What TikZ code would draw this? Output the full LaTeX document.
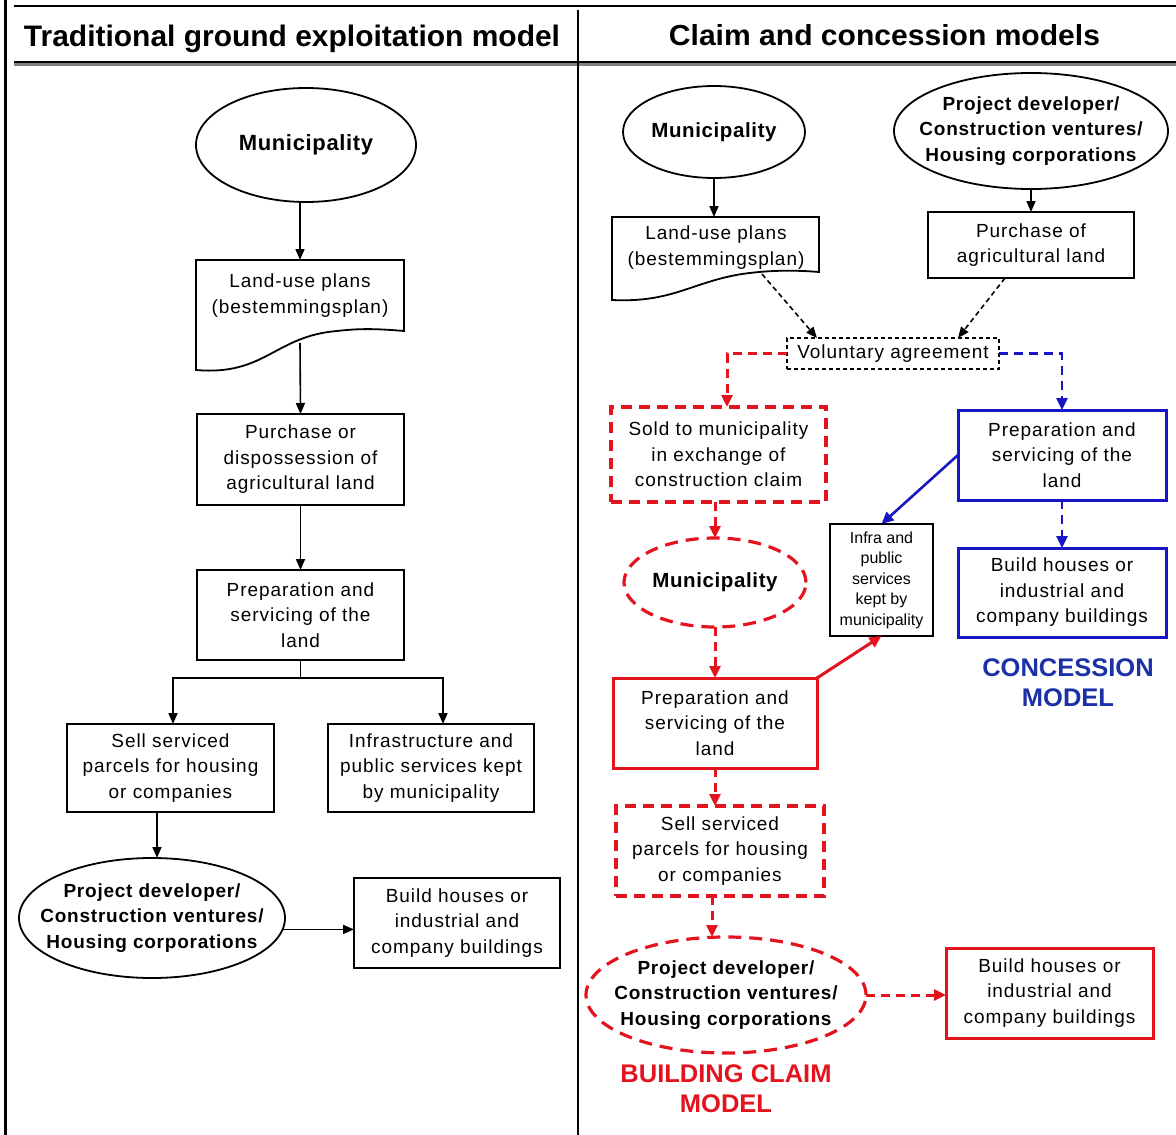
\documentclass[tikz,border=0pt]{standalone}
\usepackage{fontspec}
\setmainfont{Liberation Sans}
\usepackage{graphicx}
\usetikzlibrary{arrows.meta,shapes.geometric,calc}
\definecolor{rd}{RGB}{228,20,30}
\definecolor{bl}{RGB}{22,22,196}
\definecolor{bltext}{RGB}{28,48,168}
\begin{document}
\begin{tikzpicture}[x=1pt,y=-1pt,
  every node/.style={inner sep=0pt, outer sep=0pt},
  body/.style={font=\fontsize{19}{25.5}\selectfont\addfontfeatures{LetterSpace=5}, align=center},
  bbody/.style={font=\fontsize{19}{25.5}\selectfont\bfseries\addfontfeatures{LetterSpace=4}, align=center},
  bbox/.style={body, draw, line width=1.8pt, rectangle},
  rbox/.style={body, draw=rd, line width=3pt, rectangle},
  rdbox/.style={body, draw=rd, line width=3.2pt, dash pattern=on 11pt off 7pt, rectangle},
  blbox/.style={body, draw=bl, line width=3pt, rectangle},
  ell/.style={draw, line width=1.8pt, ellipse},
  rdell/.style={draw=rd, line width=3.2pt, dash pattern=on 13pt off 8pt, ellipse},
  arr/.style={-{Triangle[length=11pt,width=9pt]}, line width=1.6pt},
  darr/.style={arr, dash pattern=on 5pt off 3.5pt},
  rarr/.style={-{Triangle[length=12pt,width=11pt]}, draw=rd, line width=3pt},
  rdarr/.style={rarr, dash pattern=on 9pt off 6pt},
  barr/.style={-{Triangle[length=12pt,width=11pt]}, draw=bl, line width=2.6pt},
  bdarr/.style={barr, dash pattern=on 9pt off 6pt},
  docline/.style={draw, line width=1.8pt, fill=white},
  model/.style={font=\fontsize{25.5}{30}\selectfont\bfseries, align=center}
]
\useasboundingbox (0,0) rectangle (1176,1135);

% frame and headers
\draw[line width=3pt] (5,0) -- (5,1135);
\draw[line width=2.8pt] (14,6) -- (1176,6);
\draw[line width=2.2pt, gray] (14,64.5) -- (1176,64.5);
\draw[line width=2.4pt] (14,62) -- (1176,62);
\draw[line width=2.8pt] (578,10) -- (578,1135);
\node[anchor=base] (hleft) at (292,46.5) {\resizebox{536pt}{21.5pt}{\bfseries Traditional ground exploitation model}};
\node[anchor=base] (hright) at (884.5,45.5) {\resizebox{431pt}{21pt}{\bfseries Claim and concession models}};

% ---------- left column ----------
\node[ell, minimum width=220pt, minimum height=114pt] (lmun) at (306,145) {};
\node[bbody, font=\fontsize{22}{26}\selectfont\bfseries\addfontfeatures{LetterSpace=3}] (lmunt) at (lmun) {Municipality};
\draw[docline] (196,260) -- (404,260) -- (404,331)
  .. controls (380,329) and (362,328) .. (337,331)
  .. controls (275,336) and (265,376) .. (196,370) -- cycle;
\node[body] (ldoc) at (300,295.5) {Land-use plans\\(bestemmingsplan)};
\coordinate (ldoctop) at (300,260);
\coordinate (ldocbot) at (300,343);
\node[bbox, minimum width=207pt, minimum height=91pt] (lpur) at (300.5,459.5) {Purchase or\\dispossession of\\agricultural land};
\node[bbox, minimum width=207pt, minimum height=90pt] (lprep) at (300.5,615) {Preparation and\\servicing of the\\land};
\node[bbox, minimum width=207pt, minimum height=88pt] (lsell) at (170.5,768) {Sell serviced\\parcels for housing\\or companies};
\node[bbox, minimum width=206pt, minimum height=88pt] (linfra) at (431,768) {Infrastructure and\\public services kept\\by municipality};
\node[ell, minimum width=266pt, minimum height=120pt] (ldev) at (152,918) {};
\node[bbody] (ldevt) at (ldev) {Project developer/\\Construction ventures/\\Housing corporations};
\node[bbox, minimum width=206pt, minimum height=90pt] (lbuild) at (457,923) {Build houses or\\industrial and\\company buildings};

\draw[arr] (ldoctop |- lmun.south) -- (ldoctop);
\draw[arr] (ldocbot) -- (lpur.north);
\draw[arr] (lpur.south) -- (lprep.north);
\draw[line width=1.6pt] (lprep.south) -- ++(0,18) coordinate (lsplit);
\draw[arr] (lsplit) -| ([xshift=2.5pt]lsell.north);
\draw[arr] (lsplit) -| ([xshift=12pt]linfra.north);
\draw[arr] ([xshift=-13.5pt]lsell.south) -- ([xshift=5pt]ldev.north);
\draw[arr] (ldev.-5) -- (ldev.-5 -| lbuild.west);

% ---------- right column ----------
\node[ell, minimum width=182pt, minimum height=92pt] (rmun) at (714,132) {};
\node[bbody, font=\fontsize{20.5}{24}\selectfont\bfseries\addfontfeatures{LetterSpace=3}] (rmunt) at (rmun) {Municipality};
\draw[docline] (612,217) -- (819,217) -- (819,272)
  .. controls (795,270) and (770,270) .. (742,274)
  .. controls (692,282) and (672,303) .. (612,300) -- cycle;
\node[body] (rdoc) at (716,247.5) {Land-use plans\\(bestemmingsplan)};
\coordinate (rdoctop) at (714,217);
\coordinate (rdocbot) at (762,274);
\node[ell, minimum width=274pt, minimum height=116pt] (rdev) at (1031,131) {};
\node[bbody] (rdevt) at (rdev) {Project developer/\\Construction ventures/\\Housing corporations};
\node[bbox, minimum width=206pt, minimum height=66pt] (rpur) at (1031,245) {Purchase of\\agricultural land};
\node[body, draw, line width=1.6pt, dash pattern=on 4pt off 3pt, minimum width=212pt, minimum height=31pt] (vol) at (893,353.5) {Voluntary agreement};

\node[rdbox, minimum width=215pt, minimum height=95pt] (rsold) at (718.5,454.5) {Sold to municipality\\in exchange of\\construction claim};
\node[rdell, minimum width=182pt, minimum height=89pt] (rmun2) at (715,582.5) {};
\node[bbody, font=\fontsize{20.5}{24}\selectfont\bfseries\addfontfeatures{LetterSpace=3}] (rmun2t) at (rmun2) {Municipality};
\node[rbox, minimum width=204pt, minimum height=90pt] (rprep) at (715,723) {Preparation and\\servicing of the\\land};
\node[bbox, minimum width=103pt, minimum height=112pt, font=\fontsize{16}{20.5}\selectfont] (rinfra) at (881.5,580) {Infra and\\public\\services\\kept by\\municipality};
\node[blbox, minimum width=208pt, minimum height=90pt] (bprep) at (1062,455) {Preparation and\\servicing of the\\land};
\node[blbox, minimum width=208pt, minimum height=89pt] (bbuild) at (1062,592.5) {Build houses or\\industrial and\\company buildings};
\node[model, text=bltext] (conc) at (1068,683) {CONCESSION\\MODEL};
\node[rdbox, minimum width=208pt, minimum height=90pt] (rsell) at (720,851) {Sell serviced\\parcels for housing\\or companies};
\node[rdell, minimum width=280pt, minimum height=116pt] (rdev2) at (726,995) {};
\node[bbody] (rdev2t) at (rdev2) {Project developer/\\Construction ventures/\\Housing corporations};
\node[rbox, minimum width=207pt, minimum height=90pt] (rbuild) at (1049.5,993) {Build houses or\\industrial and\\company buildings};
\node[model, text=rd] (claim) at (726,1088.5) {BUILDING CLAIM\\MODEL};

\draw[arr] (rmun.south) -- (rdoctop);
\draw[arr] (rdev.south) -- (rpur.north);
\draw[darr] (rdocbot) -- ([xshift=30pt]vol.north west);
\draw[darr] ([xshift=-26pt]rpur.south) -- ([xshift=-41pt]vol.north east);
\draw[rdarr] (vol.west) -| ([xshift=8.5pt]rsold.north);
\draw[bdarr] (vol.east) -| (bprep.north);
\draw[rdarr] (rsold.south -| rmun2.north) -- (rmun2.north);
\draw[rdarr] (rmun2.south) -- (rprep.north);
\draw[rarr] (rprep.north east) -- (rinfra.south);
\draw[barr] (bprep.west) -- (rinfra.north);
\draw[bdarr] (bprep.south) -- (bbuild.north);
\draw[rdarr] (rprep.south) -- (rprep.south |- rsell.north);
\draw[rdarr] ([xshift=-8pt]rsell.south) -- ([xshift=-14pt]rdev2.north);
\draw[rdarr] (rdev2.east) -- (rdev2.east -| rbuild.west);
\end{tikzpicture}
\end{document}
